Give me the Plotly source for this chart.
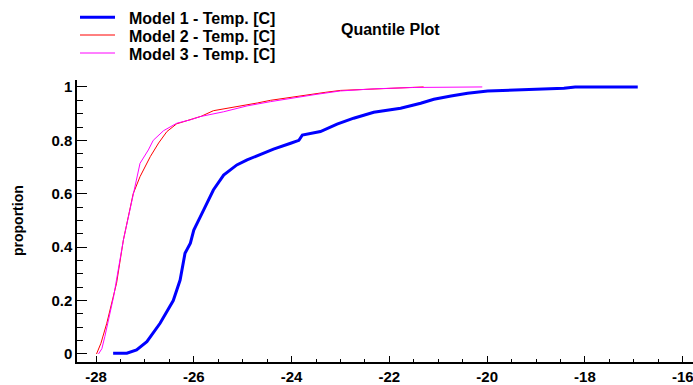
import plotly.graph_objects as go

# ---- data ----
m1_x = [-27.65, -27.37, -27.17, -26.96, -26.69, -26.42, -26.28, -26.18, -26.07, -26.0,
        -25.80, -25.60, -25.39, -25.12, -24.91, -24.64, -24.37, -24.02, -23.85, -23.78,
        -23.41, -23.07, -22.73, -22.32, -21.91, -21.77, -21.36, -21.09, -20.74, -20.40,
        -19.99, -19.45, -18.43, -18.2, -16.92]
m1_y = [0.003, 0.003, 0.015, 0.046, 0.115, 0.2, 0.277, 0.377, 0.415, 0.464,
        0.539, 0.614, 0.67, 0.708, 0.727, 0.748, 0.767, 0.789, 0.80, 0.82,
        0.833, 0.861, 0.883, 0.905, 0.916, 0.92, 0.939, 0.954, 0.966, 0.976,
        0.985, 0.989, 0.995, 1.0, 1.0]

m2_x = [-27.99, -27.9, -27.78, -27.58, -27.44, -27.24, -27.10, -26.89, -26.72, -26.55,
        -26.35, -26.07, -25.85, -25.60, -25.30, -25.05, -24.70, -24.43, -24.0, -23.68,
        -23.3, -23.0, -22.6, -22.32, -21.9, -21.3]
m2_y = [0.0, 0.04, 0.115, 0.265, 0.427, 0.60, 0.664, 0.739, 0.79, 0.833,
        0.862, 0.879, 0.89, 0.911, 0.92, 0.929, 0.94, 0.95, 0.962, 0.972,
        0.98, 0.987, 0.99, 0.993, 0.997, 1.0]

m3_x = [-27.95, -27.88, -27.82, -27.64, -27.44, -27.24, -27.10, -26.93, -26.83, -26.62,
        -26.35, -26.07, -25.87, -25.39, -24.91, -24.43, -24.0, -23.5, -23.0, -22.3,
        -21.5, -20.1]
m3_y = [0.0, 0.02, 0.065, 0.215, 0.427, 0.60, 0.714, 0.764, 0.80, 0.836,
        0.864, 0.877, 0.889, 0.907, 0.929, 0.945, 0.958, 0.972, 0.985, 0.993,
        0.998, 1.0]

series_names = ["Model 1 - Temp. [C]", "Model 2 - Temp. [C]", "Model 3 - Temp. [C]"]
series_colors = ["#0000FF", "#FF0000", "#FF00FF"]
series_widths = [3, 1, 1]

x_tickvals = [-28, -26, -24, -22, -20, -18, -16]
x_ticktext = ["-28", "-26", "-24", "-22", "-20", "-18", "-16"]
y_tickvals = [0, 0.2, 0.4, 0.6, 0.8, 1]
y_ticktext = ["0", "0.2", "0.4", "0.6", "0.8", "1"]

W, H = 693, 385
L, R, T, B = 77, 0, 80, 23
PW, PH = W - L - R, H - T - B


def px(xp):
    return (xp - L) / PW


def py(yp):
    return (H - B - yp) / PH


FONT = "Liberation Sans, Arial, sans-serif"

fig = go.Figure()
for xs, ys, name, c, w in zip([m1_x, m2_x, m3_x], [m1_y, m2_y, m3_y],
                              series_names, series_colors, series_widths):
    fig.add_trace(go.Scatter(x=xs, y=ys, mode="lines", name=name,
                             line=dict(color=c, width=w), showlegend=False))

shapes = []
annotations = []
leg_y = [17.3, 35, 53]
for i, (name, c, w) in enumerate(zip(series_names, series_colors, series_widths)):
    shapes.append(dict(type="line", xref="paper", yref="paper",
                       x0=px(80), x1=px(115), y0=py(leg_y[i]), y1=py(leg_y[i]),
                       line=dict(color=c, width=w)))
    annotations.append(dict(text="<b>%s</b>" % name, xref="paper", yref="paper",
                            x=px(127), y=py(leg_y[i] + 1.5), xanchor="left", yanchor="middle",
                            showarrow=False, font=dict(family=FONT, size=16, color="black")))

annotations.append(dict(text="<b>Quantile Plot</b>", xref="paper", yref="paper",
                        x=px(339), y=py(29.5), xanchor="left", yanchor="middle",
                        showarrow=False, font=dict(family=FONT, size=16, color="black")))
annotations.append(dict(text="<b>proportion</b>", xref="paper", yref="paper",
                        x=px(18), y=0.5, xanchor="center", yanchor="middle", textangle=-90,
                        showarrow=False, font=dict(family=FONT, size=14, color="black")))

fig.update_layout(
    width=W, height=H,
    margin=dict(l=L, r=R, t=T, b=B, pad=0),
    paper_bgcolor="white", plot_bgcolor="white",
    font=dict(family=FONT, size=15, color="black"),
    shapes=shapes, annotations=annotations,
    xaxis=dict(range=[-28.389, -15.79], tickvals=x_tickvals, ticktext=x_ticktext,
               ticklabeloverflow="allow",
               showgrid=False, zeroline=False, showline=True, linecolor="black", linewidth=1.5,
               ticks="inside", ticklen=6, tickwidth=1, tickcolor="black",
               minor=dict(dtick=0.5, ticks="inside", ticklen=3, tickcolor="black", tickwidth=1, showgrid=False),
               tickfont=dict(family=FONT, size=15, color="black", weight="bold")),
    yaxis=dict(range=[-0.030, 1.026], tickvals=y_tickvals, ticktext=y_ticktext,
               showgrid=False, zeroline=False, showline=True, linecolor="black", linewidth=1.5,
               ticks="inside", ticklen=10, tickwidth=1, tickcolor="black",
               minor=dict(dtick=0.05, ticks="inside", ticklen=6, tickcolor="black", tickwidth=1, showgrid=False),
               tickfont=dict(family=FONT, size=15, color="black", weight="bold")),
)

fig.write_html("out.html")
